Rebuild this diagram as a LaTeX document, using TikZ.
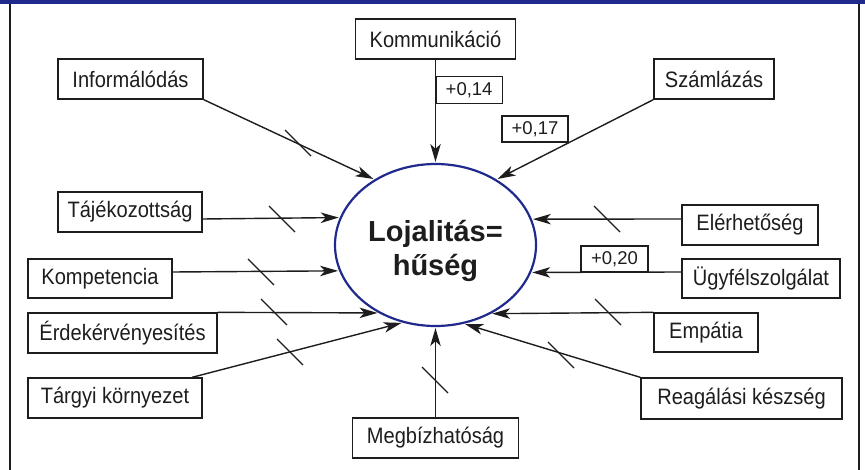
\documentclass[tikz,border=0pt]{standalone}
\usepackage{fontspec}
\setmainfont{Liberation Sans}
\newfontfamily\narrowsans{Liberation Sans}[FakeStretch=0.9]
\usetikzlibrary{arrows.meta,shapes.geometric}
\definecolor{navy}{RGB}{32,42,140}
\definecolor{ink}{RGB}{30,28,30}
\begin{document}
\begin{tikzpicture}[x=1pt,y=-1pt,
    >={Stealth[length=18pt,width=10.5pt,inset=5pt]},
    factor/.style={draw=ink, line width=1.3pt, minimum height=40pt, inner sep=2pt, text=ink,
        font=\narrowsans\fontsize{22.3}{26}\selectfont},
    weight/.style={draw=ink, line width=1.2pt, minimum width=66pt, minimum height=27pt, inner sep=1pt, text=ink,
        font=\fontsize{18.5}{22}\selectfont},
    link/.style={->, draw=ink, line width=1.4pt, shorten >=1pt}]
    \useasboundingbox (0,0) rectangle (865,470);
    \fill[navy] (0,0) rectangle (865,4.5);
    \draw[ink, line width=1.4pt] (10,4) -- (10,470) (859,4) -- (859,470);

    \node[ellipse, draw=navy, line width=2.2pt, minimum width=201pt, minimum height=162pt, inner sep=0pt,
        align=center, text=ink, font=\bfseries\fontsize{29}{34}\selectfont] (loyal) at (435.5,245)
        {\rule{0pt}{34pt}Lojalitás=\\hűség};

    \node[factor, minimum width=160pt] (kom) at (435.5,39) {Kommunikáció};
    \node[factor, minimum width=145pt] (inform) at (130.5,79) {Informálódás};
    \node[factor, minimum width=120pt] (szaml) at (714,79) {Számlázás};
    \node[factor, minimum width=144pt] (tajek) at (130,212) {Tájékozottság};
    \node[factor, minimum width=144pt, minimum height=39pt] (komp) at (100,278.5) {Kompetencia};
    \node[factor, minimum width=189pt] (erdek) at (122.5,333) {Érdekérvényesítés};
    \node[factor, minimum width=174pt] (targy) at (115,398) {Tárgyi környezet};
    \node[factor, minimum width=166pt] (megb) at (435.5,438) {Megbízhatóság};
    \node[factor, minimum width=136pt] (elerh) at (750,225) {Elérhetőség};
    \node[factor, minimum width=158pt, minimum height=39pt] (ugyf) at (761,278.5) {Ügyfélszolgálat};
    \node[factor, minimum width=104pt, minimum height=39pt] (empat) at (706,332.5) {Empátia};
    \node[factor, minimum width=201pt, minimum height=41pt] (reag) at (741.5,398.5) {Reagálási készség};

    \node[weight, anchor=west] (w14) at (435.5,90) {+0,14};
    \node[weight, minimum height=26pt] (w17) at (535,129) {+0,17};
    \node[weight, minimum height=26pt, minimum width=67pt] (w20) at (614.5,259) {+0,20};

    \draw[link] (kom.south) -- (loyal.north);
    \draw[link] (inform.south east) -- (loyal.133);
    \draw[link] (szaml.south west) -- (loyal.47.5);
    \draw[link] ([yshift=-7pt]tajek.east) -- (loyal.164.9);
    \draw[link] ([yshift=6.5pt]komp.east) -- (loyal.195.7);
    \draw[link] (erdek.north east) -- (loyal.230.2);
    \draw[link] ([xshift=77pt]targy.north) -- (loyal.247.5);
    \draw[link] (megb.north) -- (loyal.south);
    \draw[link] ([yshift=6pt]elerh.west) -- (loyal.15.1);
    \draw[link] ([yshift=6.5pt]ugyf.west) -- (loyal.344.3);
    \draw[link] (empat.north west) -- (loyal.309.8);
    \draw[link] (reag.north west) -- (loyal.290.2);

    \foreach \p in {(298,143),(282,219),(261,272),(274,312),(290,352),(435,380),(607,219),(608,312),(561,355)}
        \draw[ink, line width=1.3pt, shift={\p}] (-13,-13) -- (13,13);
\end{tikzpicture}
\end{document}
